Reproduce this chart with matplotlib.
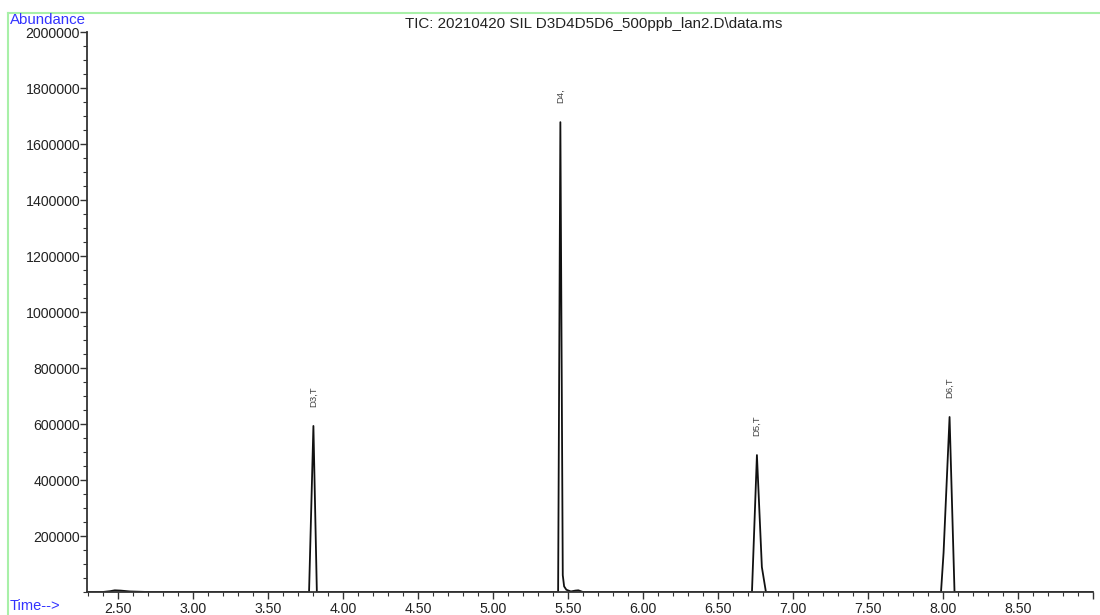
import matplotlib
matplotlib.use('Agg')
import matplotlib.pyplot as plt
from matplotlib.lines import Line2D
from matplotlib.ticker import MultipleLocator, FixedLocator

plt.rcParams['font.family'] = ['Liberation Sans', 'DejaVu Sans']

# TIC trace (time in min, abundance)
time = [2.30, 2.40, 2.45, 2.48, 2.52, 2.58, 2.70, 3.775, 3.804, 3.827,
        5.435, 5.450, 5.466, 5.475, 5.49, 5.52, 5.55, 5.57, 5.60,
        6.727, 6.760, 6.793, 6.820, 7.987, 8.004, 8.044, 8.077, 9.00]
abundance = [0, 0, 3000, 6000, 5000, 2000, 0, 0, 593000, 0,
             0, 1678000, 60000, 20000, 8000, 2000, 5000, 6000, 0,
             0, 489000, 89000, 0, 0, 140000, 625000, 0, 0]

peak_times = [3.804, 5.450, 6.760, 8.044]
peak_heights = [593000, 1678000, 489000, 625000]
peak_labels = ['D3,T', 'D4,', 'D5,T', 'D6,T']

title = 'TIC: 20210420 SIL D3D4D5D6_500ppb_lan2.D\\data.ms'
y_ticks = [200000, 400000, 600000, 800000, 1000000, 1200000,
           1400000, 1600000, 1800000, 2000000]
x_ticks = [2.5, 3.0, 3.5, 4.0, 4.5, 5.0, 5.5, 6.0, 6.5, 7.0, 7.5, 8.0, 8.5, 9.0]

fig = plt.figure(figsize=(11, 6.15), dpi=100)
ax = fig.add_axes([87 / 1100, 23 / 615, 1006 / 1100, 560 / 615])

ax.plot(time, abundance, color='#111111', linewidth=1.3)

for t, h, lab in zip(peak_times, peak_heights, peak_labels):
    ax.annotate(lab, xy=(t, h), xytext=(0, 14), textcoords='offset points',
                rotation=90, ha='center', va='bottom', fontsize=6.8,
                color='#444444')

ax.set_xlim(2.295, 9.0)
ax.set_ylim(0, 2000000)
ax.xaxis.set_major_locator(FixedLocator(x_ticks))
ax.xaxis.set_minor_locator(MultipleLocator(0.1))
ax.yaxis.set_major_locator(FixedLocator(y_ticks))
ax.yaxis.set_minor_locator(MultipleLocator(50000))
ax.set_xticklabels(['%.2f' % v if v < 9 else '' for v in x_ticks])
ax.set_yticklabels([str(v) for v in y_ticks])

for side in ['top', 'right']:
    ax.spines[side].set_visible(False)
for side in ['left', 'bottom']:
    ax.spines[side].set_color('#333333')
    ax.spines[side].set_linewidth(1.3)

ax.tick_params(which='major', length=5, width=1.0, color='#333333',
               labelsize=10.2, labelcolor='#222222', pad=2)
ax.tick_params(which='minor', length=3, width=0.8, color='#333333')
ax.tick_params(axis='y', pad=0)

fig.text(594 / 1100, 1 - 24 / 615, title, ha='center', va='center',
         fontsize=10.9, color='#222222')
fig.text(10 / 1100, 1 - 20 / 615, 'Abundance', ha='left', va='center',
         fontsize=10.8, color='#3333ff')
fig.text(10 / 1100, 1 - 606 / 615, 'Time-->', ha='left', va='center',
         fontsize=10.5, color='#3333ff')

# light green frame around the chart
green = '#a8f0a8'
fig.add_artist(Line2D([8 / 1100, 8 / 1100], [0, 1 - 13 / 615],
                      transform=fig.transFigure, color=green, linewidth=1.5))
fig.add_artist(Line2D([8 / 1100, 1], [1 - 13 / 615, 1 - 13 / 615],
                      transform=fig.transFigure, color=green, linewidth=1.5))

fig.savefig('out.png', dpi=100)
plt.close(fig)
